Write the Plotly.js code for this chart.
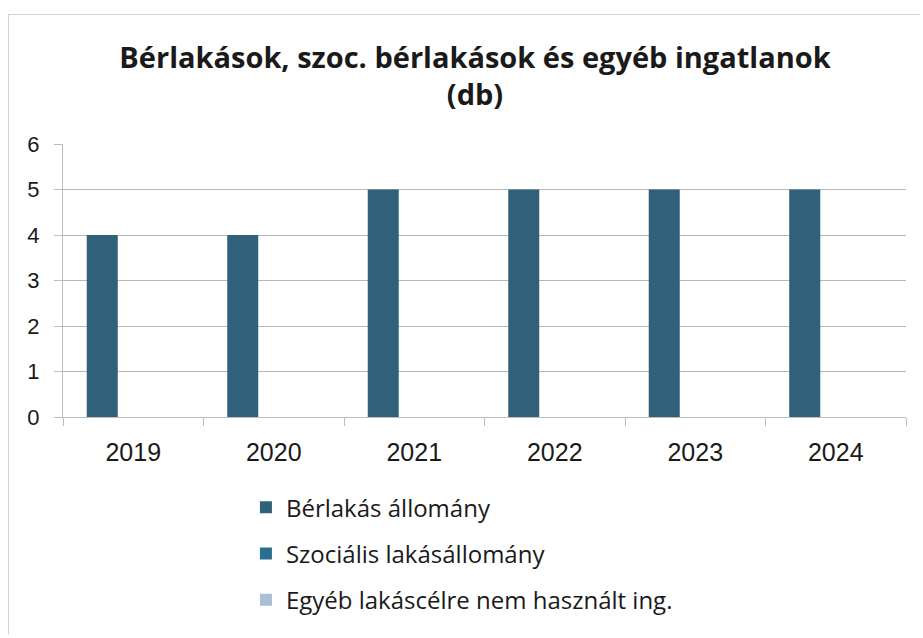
<!DOCTYPE html>
<html>
<head>
<meta charset="utf-8">
<script src="https://cdn.plot.ly/plotly-3.0.1.min.js"></script>
<style>
  html, body { margin: 0; padding: 0; background: #ffffff; }
  #frame { position: absolute; left: 8px; top: 14px; width: 912px; height: 620px; border: 1px solid #d4d4d4; border-right: none; box-sizing: border-box; }
  #chart { width: 912px; height: 620px; }
</style>
</head>
<body>
<div id="frame"><div id="chart"></div></div>
<script>
const years = ['2019', '2020', '2021', '2022', '2023', '2024'];
const berlakas = [4, 4, 5, 5, 5, 5];
const szocialis = [0, 0, 0, 0, 0, 0];
const egyeb = [0, 0, 0, 0, 0, 0];
const seriesNames = ['Bérlakás állomány', 'Szociális lakásállomány', 'Egyéb lakáscélre nem használt ing.'];
const yTicks = [0, 1, 2, 3, 4, 5, 6];
const titleText = 'Bérlakások, szoc. bérlakások és egyéb ingatlanok<br>(db)';

const colors = ['#30607A', '#2C6E8E', '#A9BFD3'];
const seriesValues = [berlakas, szocialis, egyeb];

const traces = seriesValues.map((vals, i) => ({
  type: 'bar',
  x: years,
  y: vals,
  name: seriesNames[i],
  legendgroup: 'g' + i,
  marker: { color: colors[i], line: { width: 0 } },
  hoverinfo: 'x+y+name'
}));

const layout = {
  width: 912,
  height: 620,
  paper_bgcolor: '#ffffff',
  plot_bgcolor: '#ffffff',
  margin: { l: 54, r: 15, t: 129, b: 218, autoexpand: false },
  barmode: 'group',
  bargap: 0.338,
  bargroupgap: 0,
  title: {
    text: titleText,
    font: { family: 'Open Sans, sans-serif', size: 29, color: '#1a1a1a', weight: 'bold' },
    x: 0.511, xanchor: 'center', xref: 'container',
    y: 0.915, yanchor: 'top', yref: 'container'
  },
  xaxis: {
    type: 'category',
    showline: true, linecolor: '#bdbdbd', linewidth: 1,
    ticks: 'outside', tickson: 'boundaries', ticklen: 8, tickcolor: '#bdbdbd',
    tickfont: { family: 'Liberation Sans, Arial, sans-serif', size: 25, color: '#1a1a1a' },
    ticklabelstandoff: 13,
    showgrid: false, zeroline: false, fixedrange: true, automargin: false
  },
  yaxis: {
    range: [0, 6],
    tickvals: yTicks,
    showline: true, linecolor: '#bdbdbd', linewidth: 1,
    ticks: 'outside', ticklen: 8, tickcolor: '#bdbdbd',
    tickfont: { family: 'Liberation Sans, Arial, sans-serif', size: 22, color: '#1a1a1a' },
    ticklabelstandoff: 10,
    showgrid: true, gridcolor: '#b8b8b8', gridwidth: 1,
    zeroline: false, fixedrange: true, automargin: false
  },
  showlegend: true,
  legend: {
    orientation: 'v',
    x: 0.217, xanchor: 'left',
    y: -0.25, yanchor: 'top',
    traceorder: 'grouped',
    tracegroupgap: 12,
    font: { family: 'Open Sans, sans-serif', size: 24, color: '#1a1a1a' },
    bgcolor: 'rgba(0,0,0,0)',
    borderwidth: 0
  }
};

Plotly.newPlot('chart', traces, layout, { displayModeBar: false, staticPlot: true });
</script>
</body>
</html>
